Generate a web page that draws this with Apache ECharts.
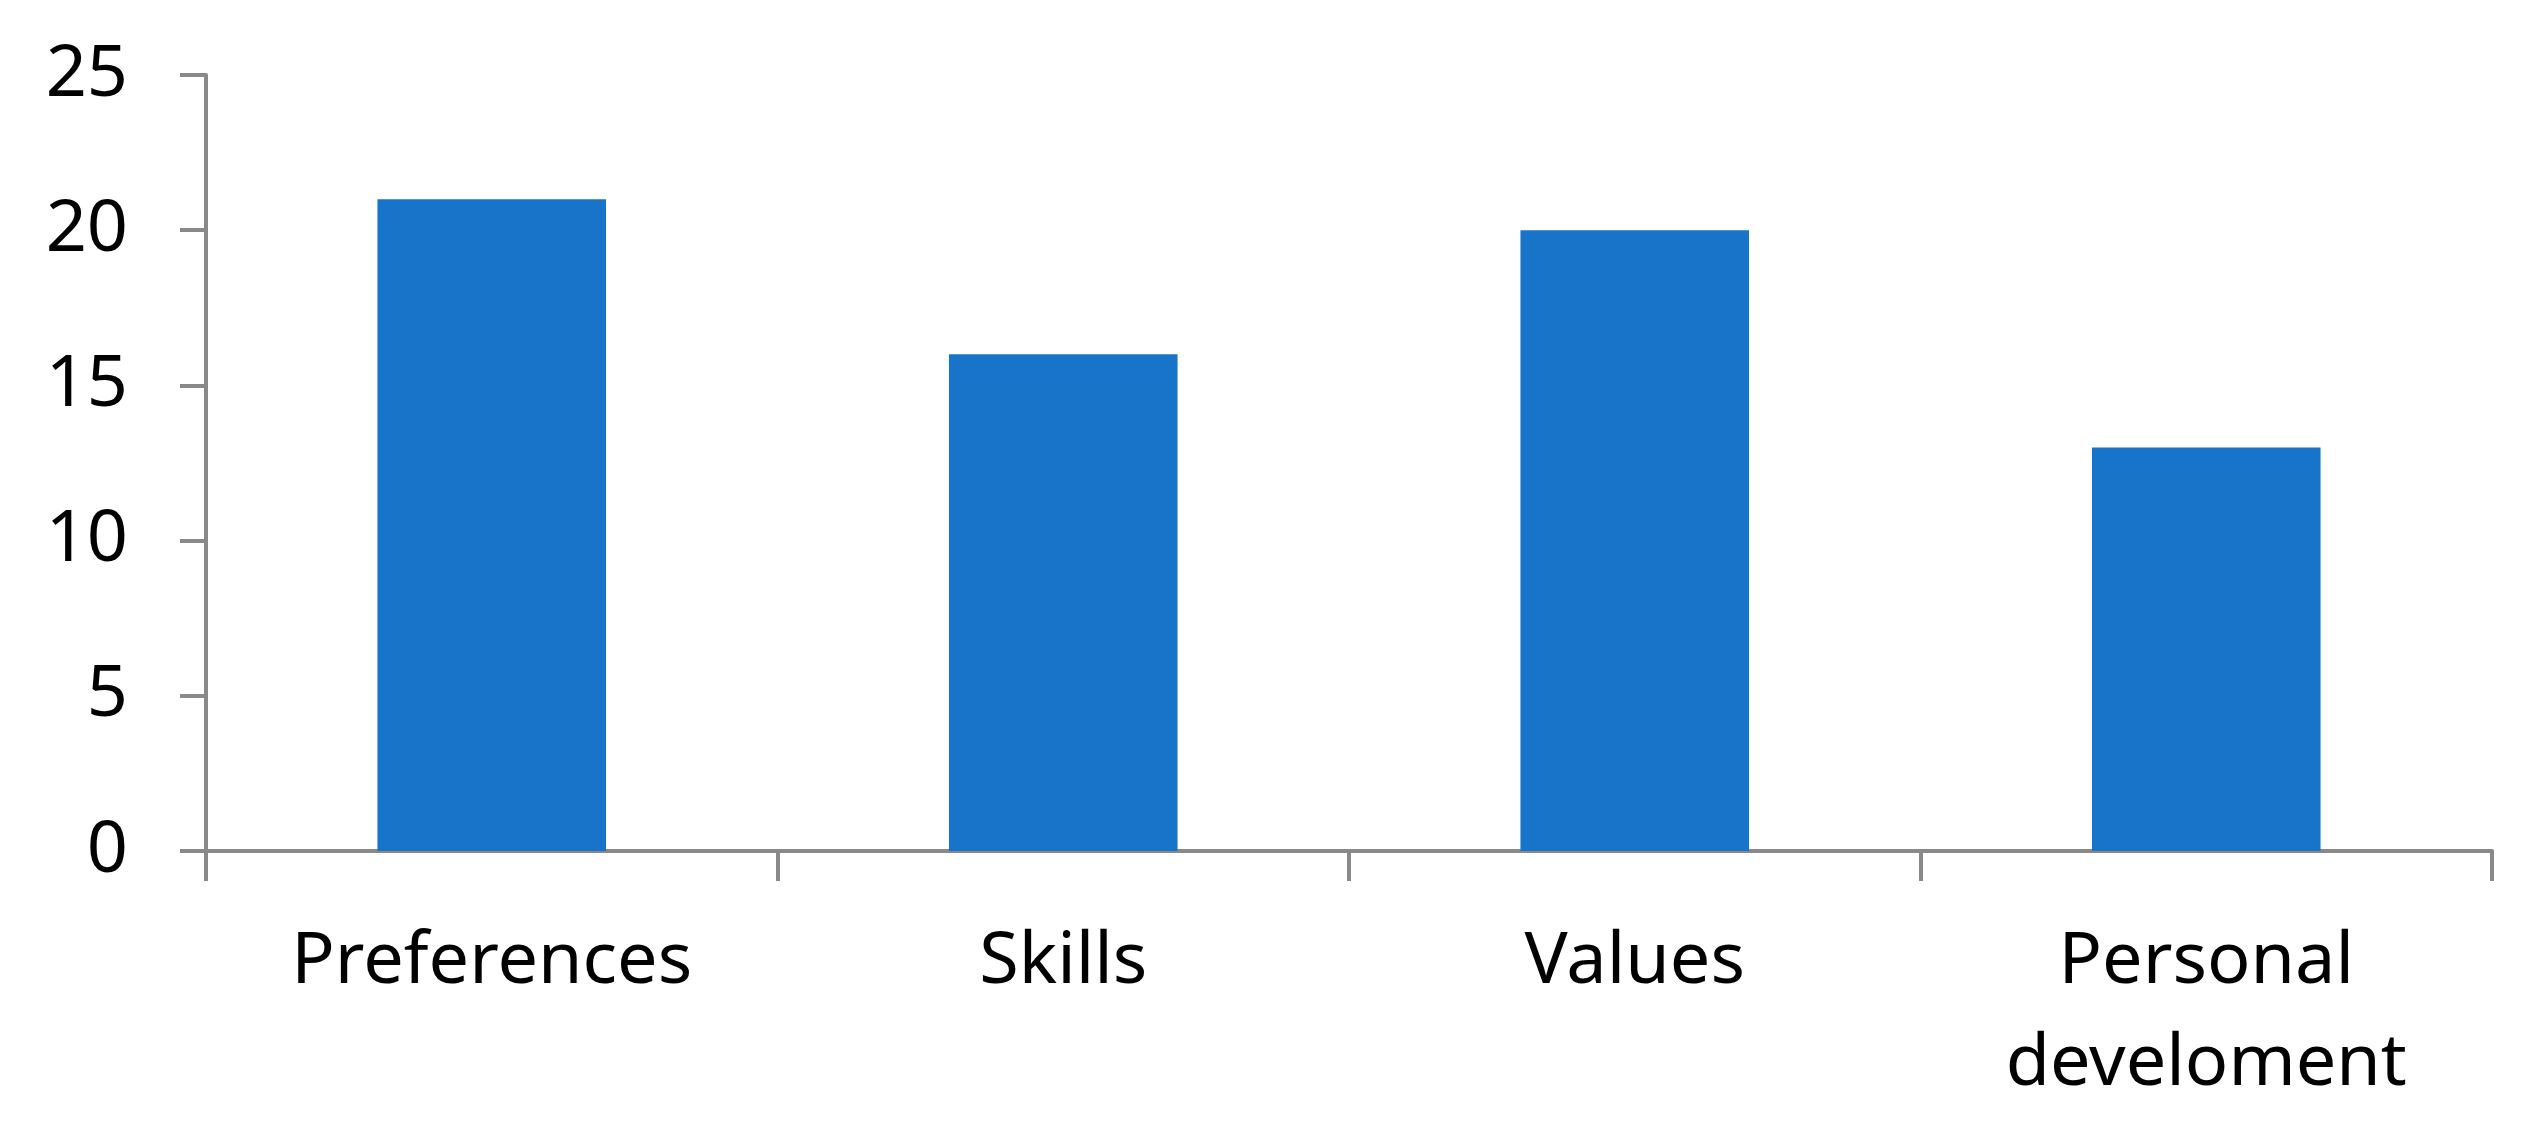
<!DOCTYPE html>
<html>
<head>
<meta charset="utf-8">
<script src="https://cdn.jsdelivr.net/npm/echarts@6/dist/echarts.min.js"></script>
<style>
html,body{margin:0;padding:0;background:#fff;}
#chart{width:2542px;height:1142px;}
</style>
</head>
<body>
<div id="chart"></div>
<script>
const categories = ['Preferences', 'Skills', 'Values', 'Personal\ndevelopment'.replace('development','develoment')];
const values = [21, 16, 20, 13];
const yTicks = { min: 0, max: 25, interval: 5 };

const chart = echarts.init(document.getElementById('chart'), null, { renderer: 'canvas' });
const axisColor = '#898989';
const font = '"Noto Sans", sans-serif';
chart.setOption({
  animation: false,
  backgroundColor: '#ffffff',
  grid: { left: 206, right: 50, top: 75, bottom: 291, containLabel: false },
  xAxis: {
    type: 'category',
    data: categories,
    axisLine: { show: true, lineStyle: { color: axisColor, width: 4 } },
    axisTick: { show: true, alignWithLabel: false, length: 30, lineStyle: { color: axisColor, width: 4 } },
    axisLabel: { color: '#000', fontFamily: font, fontSize: 72, margin: 60, lineHeight: 102, interval: 0 },
    splitLine: { show: false }
  },
  yAxis: {
    type: 'value',
    min: yTicks.min, max: yTicks.max, interval: yTicks.interval,
    axisLine: { show: true, lineStyle: { color: axisColor, width: 4 } },
    axisTick: { show: true, length: 26, lineStyle: { color: axisColor, width: 4 } },
    axisLabel: { color: '#000', fontFamily: font, fontSize: 72, margin: 78 },
    splitLine: { show: false }
  },
  series: [{
    type: 'bar',
    data: values,
    barCategoryGap: '60%',
    itemStyle: { color: '#1874c9' }
  }]
});
</script>
</body>
</html>
